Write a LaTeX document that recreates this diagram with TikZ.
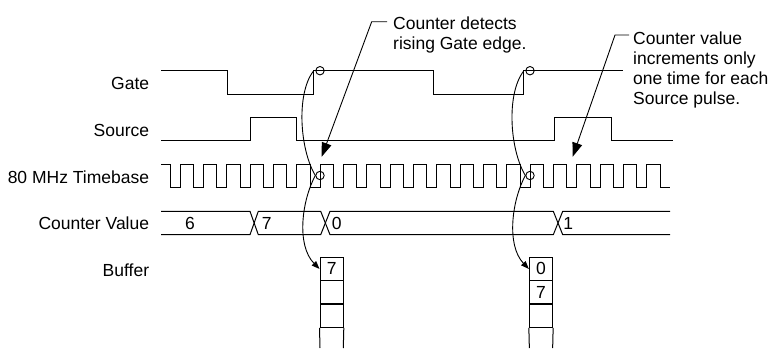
\documentclass[tikz,border=0pt]{standalone}
\usepackage{fontspec}
\setmainfont{Liberation Sans}
\usetikzlibrary{arrows.meta}
\begin{document}
\begin{tikzpicture}[x=1pt,y=-1pt,
  sig/.style={line width=1pt,line join=miter},
  lbl/.style={anchor=base east,inner sep=0pt},
  txt/.style={anchor=base west,inner sep=0pt},
  val/.style={anchor=base,inner sep=0pt},
  cell/.style={draw,line width=1pt,minimum width=23.3pt,minimum height=23.3pt,inner sep=0pt},
  circ/.style={draw,circle,line width=0.9pt,minimum size=8.4pt,inner sep=0pt},
  curvearrow/.style={line width=0.9pt,-{Triangle[length=8pt,width=6pt]}},
  bigarrow/.style={line width=0.9pt,-{Triangle[length=14pt,width=10pt]}},
  font=\fontsize{17.5}{20}\selectfont]
\useasboundingbox (0,0) rectangle (776,348);

% labels
\node[lbl] (lgate) at (149.3,89) {Gate};
\node[lbl] (lsrc) at (149.3,136) {Source};
\node[lbl] (ltb) at (149.3,183) {80 MHz Timebase};
\node[lbl] (lcv) at (149.3,229) {Counter Value};
\node[lbl] (lbuf) at (149.3,276) {Buffer};

% Gate
\draw[sig] (161,70.7) -- (227,70.7) -- (227,94) -- (313,94) -- (313,70.7) -- (433.3,70.7)
  -- (433.3,94) -- (523.3,94) -- (523.3,70.7) -- (622.7,70.7);
% Source
\draw[sig] (161,140.7) -- (250,140.7) -- (250,117.3) -- (296,117.3) -- (296,140.7) -- (554,140.7)
  -- (554,117.3) -- (611.7,117.3) -- (611.7,140.7) -- (673.3,140.7);
% Timebase
\draw[sig] (161,164.5) \foreach \m in {-6,...,14} { -- ({310+23.333*\m},164.5) -- ++(0,23) -- ++(10,0) -- ++(0,-23) }
  -- (660,164.5) -- (660,187.5) -- (670,187.5);
% Counter value bus
\draw[sig] (161,211.3) -- (250,211.3) -- (258.3,234.7) -- (320.7,234.7) -- (330,211.3) -- (553.3,211.3) -- (562.7,234.7) -- (670,234.7);
\draw[sig] (161,234.7) -- (250,234.7) -- (258.3,211.3) -- (320.7,211.3) -- (330,234.7) -- (553.3,234.7) -- (562.7,211.3) -- (670,211.3);
\node[val] (v6) at (190,229) {6};
\node[val] (v7) at (266.7,229) {7};
\node[val] (v0) at (336.7,229) {0};
\node[val] (v1) at (568.3,229) {1};

% Buffers
\node[cell] (b1a) at (331.65,268.95) {7};
\node[cell] (b1b) at (331.65,292.3) {};
\node[cell] (b1c) at (331.65,315.65) {};
\draw[sig] (b1c.south west) -- (320,348);
\draw[sig] (b1c.south east) -- (343.3,348);
\node[cell] (b2a) at (541,268.95) {0};
\node[cell] (b2b) at (541,292.3) {7};
\node[cell] (b2c) at (541,315.65) {};
\draw[sig] (b2c.south west) -- (529.35,348);
\draw[sig] (b2c.south east) -- (552.65,348);

% circles
\node[circ] (gc1) at (320,70.7) {};
\node[circ] (gc2) at (530,70.7) {};
\node[circ] (tc1) at (320,175.5) {};
\node[circ] (tc2) at (530,175.5) {};
\coordinate (ge1) at (313,71.5);
\coordinate (ge2) at (523.3,71.5);

% curved arrows
\draw[curvearrow] (ge1) .. controls (296,95) and (300,150) .. (tc1.west)
  .. controls (302,200) and (296,245) .. (b1a.west);
\draw[curvearrow] (ge2) .. controls (506,95) and (510,150) .. (tc2.west)
  .. controls (512,200) and (506,245) .. (b2a.west);

% annotations
\node[txt] (a1l1) at (393,29) {Counter detects};
\node[txt] (a1l2) at (393,49) {rising Gate edge.};
\node[txt] (a2l1) at (633,44) {Counter value};
\node[txt] (a2l2) at (633,64) {increments only};
\node[txt] (a2l3) at (633,84) {one time for each};
\node[txt] (a2l4) at (633,104) {Source pulse.};
\coordinate (k1) at (371.7,21.7);
\coordinate (t1) at (321.7,156.7);
\coordinate (k2) at (615,35);
\coordinate (t2) at (572.7,156.7);
\draw[bigarrow] ([xshift=-6pt]a1l1.west |- k1) -- (k1) -- (t1);
\draw[bigarrow] ([xshift=-4pt]a2l1.west |- k2) -- (k2) -- (t2);
\end{tikzpicture}
\end{document}
